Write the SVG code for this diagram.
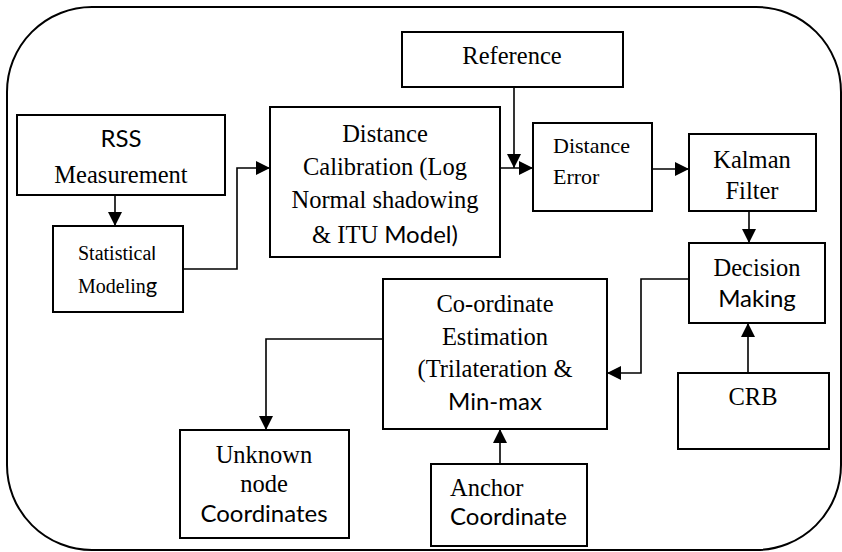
<svg xmlns="http://www.w3.org/2000/svg" width="842" height="552" viewBox="0 0 842 552">
<defs>
<marker id="ah" markerUnits="userSpaceOnUse" markerWidth="15" markerHeight="15" refX="14" refY="7" orient="auto">
<path d="M0,0 L14,7 L0,14 z" fill="#000"/>
</marker>
<style>
.box{fill:#fff;stroke:#000;stroke-width:2}
.ln{fill:none;stroke:#000;stroke-width:1.6}
.sf{font-family:Liberation Serif, serif;font-size:24.5px}
.ss{font-family:Lato, sans-serif;font-size:24px}
</style>
</defs>
<rect x="7" y="7" width="834" height="543" rx="85" ry="85" fill="none" stroke="#000" stroke-width="2"/>
<g id="connectors">
<path class="ln" d="M115,195 V226" marker-end="url(#ah)"/>
<path class="ln" d="M183,269 H237 V168 H270" marker-end="url(#ah)"/>
<path class="ln" d="M500,168 H533" marker-end="url(#ah)"/>
<path class="ln" d="M514,87 V168" marker-end="url(#ah)"/>
<path class="ln" d="M652,169 H689" marker-end="url(#ah)"/>
<path class="ln" d="M749,211 V243" marker-end="url(#ah)"/>
<path class="ln" d="M748,373 V323" marker-end="url(#ah)"/>
<path class="ln" d="M689,279 H641 V373 H607" marker-end="url(#ah)"/>
<path class="ln" d="M383,339 H266 V430" marker-end="url(#ah)"/>
<path class="ln" d="M500,464 V429" marker-end="url(#ah)"/>
</g>
<g id="rss">
<rect class="box" x="17" y="115" width="208" height="80"/>
<text class="ss" x="121" y="147" text-anchor="middle">RSS</text>
<text class="sf" x="121" y="183" text-anchor="middle">Measurement</text>
</g>
<g id="stat">
<rect class="box" x="53" y="226" width="130" height="86"/>
<text class="sf" x="78" y="260" style="font-size:20px">Statistica<tspan class="ss" style="font-size:20px">l</tspan></text>
<text class="sf" x="78" y="293" style="font-size:20px">Modelin<tspan class="ss" style="font-size:22px">g</tspan></text>
</g>
<g id="calib">
<rect class="box" x="270" y="107" width="230" height="150"/>
<text class="sf" x="385" y="142" text-anchor="middle">Distance</text>
<text class="sf" x="385" y="175" text-anchor="middle">Calibration (Log</text>
<text class="sf" x="385" y="208" text-anchor="middle">Normal shadowing</text>
<text class="sf" x="385" y="243" text-anchor="middle">&amp; ITU <tspan class="ss">Model)</tspan></text>
</g>
<g id="reference">
<rect class="box" x="402" y="32" width="221" height="55"/>
<text class="sf" x="512" y="64" text-anchor="middle">Reference</text>
</g>
<g id="disterr">
<rect class="box" x="533" y="123" width="119" height="88"/>
<text class="sf" x="553" y="153" style="font-size:22px">Distance</text>
<text class="sf" x="553" y="184" style="font-size:22px">Error</text>
</g>
<g id="kalman">
<rect class="box" x="689" y="134" width="127" height="77"/>
<text class="sf" x="752" y="168" text-anchor="middle">Kalman</text>
<text class="sf" x="752" y="199" text-anchor="middle">Filter</text>
</g>
<g id="decision">
<rect class="box" x="689" y="243" width="136" height="80"/>
<text class="sf" x="757" y="276" text-anchor="middle">Decision</text>
<text class="ss" x="757" y="307" text-anchor="middle">Making</text>
</g>
<g id="coord">
<rect class="box" x="383" y="279" width="224" height="150"/>
<text class="sf" x="495" y="312" text-anchor="middle">Co-ordinate</text>
<text class="sf" x="495" y="345" text-anchor="middle">Estimation</text>
<text class="sf" x="495" y="377" text-anchor="middle">(Trilateration &amp;</text>
<text class="ss" x="495" y="410" text-anchor="middle">Min-max</text>
</g>
<g id="crb">
<rect class="box" x="678" y="373" width="151" height="76"/>
<text class="sf" x="753" y="405" text-anchor="middle">CRB</text>
</g>
<g id="unknown">
<rect class="box" x="180" y="430" width="169" height="108"/>
<text class="sf" x="264" y="463" text-anchor="middle">Unknown</text>
<text class="sf" x="264" y="492" text-anchor="middle">node</text>
<text class="ss" x="264" y="522" text-anchor="middle">Coordinates</text>
</g>
<g id="anchor">
<rect class="box" x="431" y="464" width="156" height="82"/>
<text class="sf" x="450" y="496">Anchor</text>
<text class="ss" x="450" y="525">Coordinate</text>
</g>
</svg>
